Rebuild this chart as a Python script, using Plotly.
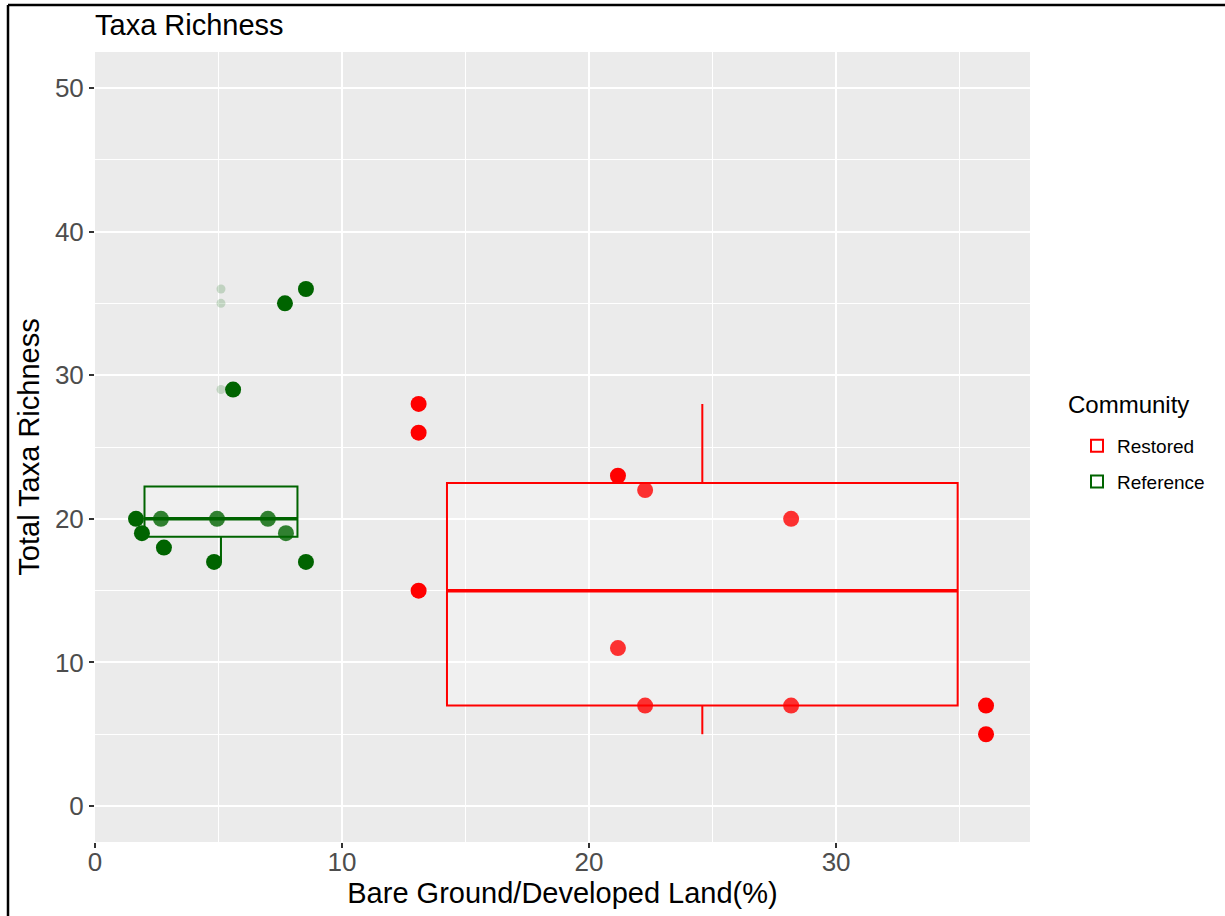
import numpy as np
import plotly.graph_objects as go

# ---- data ----
ref_x = [1.66, 1.90, 2.67, 2.79, 4.94, 4.82, 7.00, 7.73, 8.54, 5.59, 7.69, 8.54]
ref_y = [20, 19, 20, 18, 20, 17, 20, 19, 17, 29, 35, 36]
res_x = [13.10, 13.10, 13.10, 21.17, 22.27, 28.18, 21.17, 22.27, 28.18, 36.07, 36.07]
res_y = [28, 26, 15, 23, 22, 20, 11, 7, 7, 7, 5]
groups = ["Restored", "Reference"]
colors = {"Restored": "#FF0000", "Reference": "#006400"}
faint = {"Restored": "rgba(255,0,0,0.18)", "Reference": "rgba(0,100,0,0.18)"}
xticks = [0, 10, 20, 30]
yticks = [0, 10, 20, 30, 40, 50]

data = {"Restored": (res_x, res_y), "Reference": (ref_x, ref_y)}

FONT = "Liberation Sans, Arial, sans-serif"
L, R, T, B = 95, 195, 52, 74
PW, PH = 1225 - L - R, 916 - T - B

fig = go.Figure()

for g in groups:
    xs, ys = np.array(data[g][0]), np.array(data[g][1], dtype=float)
    q1, med, q3 = np.percentile(ys, [25, 50, 75])
    iqr = q3 - q1
    lo_f, hi_f = q1 - 1.5 * iqr, q3 + 1.5 * iqr
    inside = ys[(ys >= lo_f) & (ys <= hi_f)]
    lw, uw = inside.min(), inside.max()
    uw = max(uw, q3)
    lw = min(lw, q1)
    center = (xs.min() + xs.max()) / 2
    width = 0.9 * (xs.max() - xs.min())
    fig.add_trace(go.Box(
        x=[center], q1=[q1], median=[med], q3=[q3],
        lowerfence=[lw], upperfence=[uw], width=width,
        boxpoints=False, whiskerwidth=0,
        line=dict(color=colors[g], width=2),
        fillcolor="rgba(255,255,255,0.25)",
        name=g, legendgroup=g, showlegend=True,
        hoverinfo="skip",
    ))
    # thicker median line
    fig.add_trace(go.Scatter(
        x=[center - width / 2, center + width / 2], y=[med, med],
        mode="lines", line=dict(color=colors[g], width=3.5),
        legendgroup=g, showlegend=False, hoverinfo="skip",
    ))
    # outliers (faint, at box center)
    out = ys[(ys < lo_f) | (ys > hi_f)]
    if len(out):
        fig.add_trace(go.Scatter(
            x=[center] * len(out), y=out, mode="markers",
            marker=dict(color=faint[g], size=9),
            legendgroup=g, showlegend=False, hoverinfo="skip",
        ))
    # points (lighter when covered by the box fill)
    x0, x1 = center - width / 2, center + width / 2
    op = [0.8 if (x0 <= xx <= x1 and q1 <= yy <= q3) else 1.0 for xx, yy in zip(xs, ys)]
    fig.add_trace(go.Scatter(
        x=xs, y=ys, mode="markers",
        marker=dict(color=colors[g], size=16, opacity=op),
        legendgroup=g, showlegend=False,
    ))

tick_font = dict(family=FONT, size=26, color="#4D4D4D")
title_font = dict(family=FONT, size=29, color="#000000")

fig.update_layout(
    width=1225, height=916,
    paper_bgcolor="white", plot_bgcolor="#EBEBEB",
    margin=dict(l=L, r=R, t=T, b=B, autoexpand=False),
    title=dict(text="Taxa Richness", x=95 / 1225, xanchor="left", y=1 - 25 / 916, yanchor="middle",
               font=dict(family=FONT, size=29, color="black")),
    xaxis=dict(range=[0, 37.85], tickvals=xticks, ticks="outside", ticklen=5, tickwidth=1.5,
               tickcolor="#333333", tickfont=tick_font, showline=False, zeroline=False,
               gridcolor="white", gridwidth=2, automargin=False, ticklabelstandoff=-8,
               minor=dict(dtick=5, showgrid=True, gridcolor="white", gridwidth=1, ticks=""),
               title=dict(text="Bare Ground/Developed Land(%)", font=title_font, standoff=4)),
    yaxis=dict(range=[-2.5, 52.5], tickvals=yticks, ticks="outside", ticklen=5, tickwidth=1.5,
               tickcolor="#333333", tickfont=tick_font, showline=False, zeroline=False,
               gridcolor="white", gridwidth=2, automargin=False,
               minor=dict(dtick=5, showgrid=True, gridcolor="white", gridwidth=1, ticks=""),
               title=dict(text="Total Taxa Richness", font=title_font, standoff=6)),
    legend=dict(x=(1077 - L) / PW, xanchor="left", y=1 - (464 - T) / PH, yanchor="middle",
                font=dict(family=FONT, size=19, color="black"),
                bgcolor="white", itemsizing="constant", tracegroupgap=8),
    showlegend=True,
)

fig.add_annotation(text="Community", xref="paper", yref="paper",
                   x=(1066 - L) / PW, y=1 - (405 - T) / PH, xanchor="left", yanchor="middle",
                   showarrow=False, font=dict(family=FONT, size=24, color="black"))

# image frame (top and left border)
fig.add_shape(type="line", xref="paper", yref="paper",
              x0=(8 - L) / PW, x1=(1225 - L) / PW, y0=1 + (T - 5) / PH, y1=1 + (T - 5) / PH,
              line=dict(color="black", width=2.5))
fig.add_shape(type="line", xref="paper", yref="paper",
              x0=(8 - L) / PW, x1=(8 - L) / PW, y0=1 + (T - 5) / PH, y1=-B / PH,
              line=dict(color="black", width=2.5))

fig.write_html("out.html")
